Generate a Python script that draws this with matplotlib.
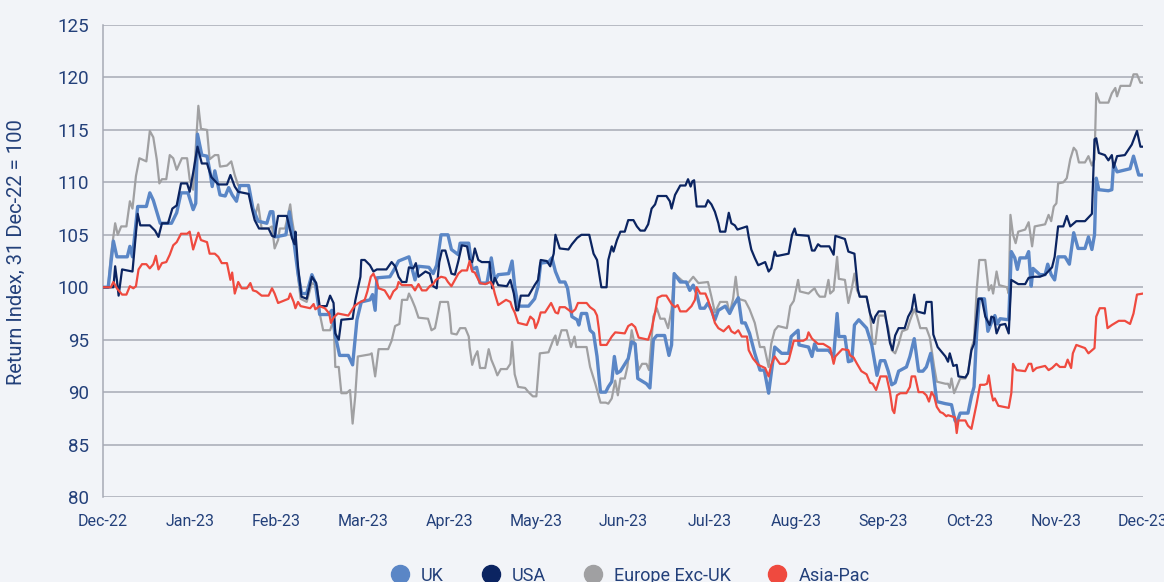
# Return index of regional equity markets, Dec-22 to Dec-23
import matplotlib
matplotlib.use("Agg")
import matplotlib.pyplot as plt
from matplotlib.lines import Line2D

plt.rcParams['font.family'] = ['Roboto', 'DejaVu Sans']

# x = months since 31 Dec 2022, values = return index (31 Dec-22 = 100)
month_labels = ['Dec-22', 'Jan-23', 'Feb-23', 'Mar-23', 'Apr-23', 'May-23', 'Jun-23',
                'Jul-23', 'Aug-23', 'Sep-23', 'Oct-23', 'Nov-23', 'Dec-23']

uk_m = [0, 0.06, 0.12, 0.16, 0.28, 0.31, 0.34, 0.40, 0.50, 0.54, 0.58, 0.62, 0.66, 0.79, 0.85, 0.90, 0.98,
        1.04, 1.07, 1.09, 1.14, 1.20, 1.23, 1.26, 1.29, 1.35, 1.41, 1.45, 1.49, 1.54, 1.58, 1.68, 1.73, 1.79,
        1.89, 1.93, 1.96, 1.99, 2.11, 2.15, 2.20, 2.25, 2.29, 2.35, 2.41, 2.45, 2.50, 2.60, 2.64, 2.68, 2.73,
        2.83, 2.88, 2.93, 2.98, 3.08, 3.11, 3.14, 3.16, 3.31, 3.36, 3.41, 3.53, 3.60, 3.64, 3.76, 3.81, 3.85,
        3.90, 3.98, 4.02, 4.10, 4.12, 4.22, 4.26, 4.31, 4.35, 4.43, 4.48, 4.52, 4.56, 4.68, 4.72, 4.75, 4.79,
        4.91, 4.98, 5.02, 5.05, 5.14, 5.18, 5.22, 5.27, 5.33, 5.36, 5.41, 5.47, 5.49, 5.52, 5.58, 5.62, 5.66,
        5.70, 5.74, 5.80, 5.83, 5.87, 5.90, 5.93, 5.97, 6.06, 6.10, 6.14, 6.17, 6.27, 6.31, 6.35, 6.39, 6.48,
        6.53, 6.56, 6.59, 6.66, 6.73, 6.77, 6.81, 6.85, 6.89, 6.94, 6.98, 7.02, 7.06, 7.10, 7.18, 7.23, 7.27,
        7.33, 7.37, 7.41, 7.46, 7.52, 7.58, 7.63, 7.68, 7.71, 7.75, 7.83, 7.91, 7.94, 8.02, 8.03, 8.14, 8.18,
        8.21, 8.24, 8.37, 8.43, 8.47, 8.49, 8.56, 8.60, 8.64, 8.67, 8.72, 8.81, 8.87, 8.93, 8.97, 9.02, 9.06,
        9.10, 9.14, 9.18, 9.27, 9.31, 9.36, 9.41, 9.46, 9.50, 9.55, 9.58, 9.62, 9.72, 9.79, 9.83, 9.85, 9.89,
        9.98, 10.02, 10.05, 10.08, 10.11, 10.17, 10.21, 10.25, 10.29, 10.32, 10.35, 10.45, 10.48, 10.52, 10.55,
        10.58, 10.65, 10.68, 10.71, 10.73, 10.81, 10.87, 10.90, 10.94, 10.98, 11.02, 11.10, 11.15, 11.20, 11.25,
        11.33, 11.37, 11.41, 11.44, 11.46, 11.49, 11.60, 11.64, 11.66, 11.70, 11.85, 11.89, 11.95, 12.0]
uk_v = [100, 100, 104.4, 102.9, 102.9, 103.9, 102.9, 107.7, 107.7, 109.0, 108.3, 107.2, 106.1, 106.1, 107.1,
        109.0, 109.0, 107.4, 108.0, 114.6, 112.6, 112.5, 111.2, 109.6, 111.1, 108.8, 108.7, 109.5, 108.8, 108.2,
        109.7, 109.7, 107.5, 106.3, 106.1, 107.2, 107.2, 104.8, 105.0, 107.2, 104.5, 101.3, 99.4, 99.4, 101.2,
        100.4, 97.4, 97.4, 97.8, 95.4, 93.5, 93.5, 92.6, 96.9, 98.6, 98.8, 99.3, 97.8, 100.9, 101.0, 101.7, 102.5,
        102.9, 100.7, 102.0, 101.9, 101.3, 102.1, 105.0, 105.0, 103.6, 103.1, 104.2, 104.2, 101.7, 101.9, 100.4,
        100.4, 102.8, 100.7, 101.2, 101.3, 102.5, 100.1, 98.2, 98.2, 98.9, 100.1, 102.3, 102.4, 102.8, 101.5,
        100.5, 100.5, 99.9, 97.2, 96.9, 96.4, 97.5, 97.5, 95.9, 95.6, 93.4, 90.0, 90.0, 90.5, 91.0, 93.4, 91.8,
        92.0, 93.2, 94.8, 94.6, 91.3, 90.8, 90.4, 95.0, 95.4, 95.4, 93.5, 94.5, 101.3, 100.5, 100.5, 99.7, 100.2,
        99.4, 98.0, 98.0, 98.5, 97.8, 96.9, 97.8, 98.2, 97.5, 98.2, 99.0, 96.6, 96.6, 95.6, 93.7, 92.1, 92.1,
        89.9, 91.8, 94.3, 93.7, 93.7, 95.3, 95.9, 94.5, 94.3, 93.4, 94.6, 94.0, 94.0, 93.4, 97.5, 95.3, 95.3,
        92.9, 93.0, 96.4, 96.9, 96.1, 94.5, 91.6, 93.0, 93.0, 92.0, 90.7, 90.9, 92.0, 92.4, 93.4, 95.1, 92.0,
        92.0, 92.4, 93.7, 91.8, 89.1, 88.9, 88.8, 87.3, 87.1, 88.0, 88.0, 89.6, 90.5, 95.6, 98.9, 98.9, 95.8,
        96.6, 97.3, 96.5, 97.0, 96.9, 103.4, 102.8, 101.7, 102.8, 102.8, 103.4, 100.1, 101.8, 101.2, 101.2,
        102.2, 101.2, 100.7, 102.9, 102.9, 102.2, 105.2, 103.7, 103.7, 104.8, 103.6, 105.0, 110.4, 109.3,
        109.2, 109.3, 111.8, 111.0, 111.3, 112.5, 110.7, 110.7]

usa_m = [0, 0.12, 0.14, 0.16, 0.18, 0.22, 0.34, 0.40, 0.43, 0.54, 0.60, 0.64, 0.68, 0.75, 0.80, 0.85, 0.90,
         0.97, 1.00, 1.04, 1.09, 1.14, 1.20, 1.25, 1.33, 1.43, 1.47, 1.52, 1.56, 1.68, 1.72, 1.75, 1.80, 1.91,
         1.95, 1.98, 2.02, 2.12, 2.18, 2.21, 2.22, 2.25, 2.29, 2.35, 2.41, 2.46, 2.50, 2.58, 2.62, 2.66, 2.68,
         2.72, 2.75, 2.88, 2.91, 2.97, 2.98, 3.02, 3.08, 3.12, 3.16, 3.27, 3.33, 3.37, 3.41, 3.45, 3.50, 3.53,
         3.58, 3.61, 3.64, 3.72, 3.77, 3.81, 3.85, 3.88, 3.91, 3.95, 3.98, 4.02, 4.06, 4.10, 4.14, 4.20, 4.23,
         4.26, 4.29, 4.33, 4.37, 4.46, 4.49, 4.52, 4.56, 4.66, 4.70, 4.74, 4.77, 4.79, 4.82, 4.91, 4.98, 5.02,
         5.05, 5.12, 5.16, 5.20, 5.22, 5.27, 5.37, 5.41, 5.47, 5.52, 5.61, 5.66, 5.70, 5.75, 5.81, 5.83, 5.87,
         5.89, 5.93, 5.97, 6.02, 6.06, 6.12, 6.16, 6.20, 6.25, 6.29, 6.33, 6.37, 6.40, 6.50, 6.54, 6.56, 6.60,
         6.66, 6.72, 6.75, 6.78, 6.80, 6.82, 6.85, 6.95, 6.98, 7.02, 7.06, 7.10, 7.12, 7.18, 7.22, 7.25, 7.29,
         7.32, 7.43, 7.45, 7.48, 7.52, 7.56, 7.64, 7.68, 7.71, 7.75, 7.77, 7.79, 7.91, 7.95, 7.98, 8.00, 8.14,
         8.18, 8.21, 8.25, 8.28, 8.38, 8.43, 8.45, 8.56, 8.60, 8.67, 8.71, 8.73, 8.81, 8.85, 8.89, 8.91, 8.95,
         9.02, 9.08, 9.11, 9.14, 9.18, 9.25, 9.29, 9.33, 9.36, 9.39, 9.48, 9.50, 9.56, 9.58, 9.63, 9.72, 9.75,
         9.77, 9.81, 9.85, 9.87, 9.95, 9.98, 10.02, 10.05, 10.08, 10.10, 10.14, 10.18, 10.23, 10.25, 10.28,
         10.31, 10.35, 10.41, 10.45, 10.48, 10.56, 10.64, 10.68, 10.75, 10.81, 10.87, 10.95, 10.98, 11.02,
         11.08, 11.12, 11.16, 11.23, 11.33, 11.41, 11.44, 11.46, 11.49, 11.56, 11.60, 11.64, 11.66, 11.70,
         11.79, 11.87, 11.93, 11.97, 12.0]
usa_v = [100, 100, 102.0, 100.7, 99.2, 101.7, 101.5, 107.0, 105.9, 105.9, 105.4, 104.8, 106.1, 106.1, 107.5,
         107.8, 109.9, 109.9, 109.1, 110.9, 113.4, 111.8, 111.8, 110.5, 109.8, 109.8, 110.7, 109.6, 109.1, 108.9,
         107.4, 106.4, 105.6, 105.6, 104.9, 104.8, 106.8, 106.8, 104.7, 104.1, 105.3, 102.0, 99.1, 98.9, 101.0,
         100.4, 98.2, 98.2, 99.2, 98.5, 95.6, 95.0, 96.9, 97.0, 98.7, 101.0, 102.6, 102.6, 102.1, 101.5, 101.7,
         101.7, 102.4, 102.0, 101.0, 100.5, 100.5, 101.9, 101.8, 102.3, 101.0, 101.5, 101.3, 100.1, 99.9, 102.4,
         103.5, 103.5, 102.6, 101.3, 101.2, 102.5, 104.0, 103.9, 102.6, 102.4, 103.7, 102.6, 102.4, 102.4, 99.9,
         100.9, 100.2, 100.1, 100.7, 99.4, 97.8, 97.8, 99.2, 99.2, 100.2, 100.7, 102.6, 102.5, 102.0, 103.2,
         105.0, 103.7, 103.6, 104.1, 104.7, 105.0, 105.0, 103.2, 102.6, 100.0, 100.0, 102.6, 103.9, 103.4, 104.5,
         105.3, 105.3, 106.4, 106.4, 105.8, 105.4, 105.4, 106.0, 107.5, 107.9, 108.7, 108.7, 108.2, 107.5, 108.8,
         109.7, 109.7, 110.3, 109.6, 110.1, 110.2, 107.7, 107.7, 108.3, 107.9, 107.2, 106.1, 105.3, 105.3, 107.1,
         106.1, 105.9, 105.5, 105.8, 104.8, 103.6, 102.8, 102.1, 102.4, 101.5, 101.8, 103.4, 103.0, 103.0, 103.2,
         105.0, 105.6, 105.0, 104.9, 103.5, 103.5, 104.1, 103.9, 103.9, 103.1, 104.9, 104.6, 103.4, 103.2, 99.8,
         99.1, 99.1, 97.5, 96.6, 97.2, 97.7, 97.7, 94.7, 94.0, 95.4, 96.1, 96.1, 97.2, 97.8, 99.3, 97.7, 97.5,
         98.6, 98.6, 95.5, 94.3, 93.4, 92.9, 93.7, 92.5, 92.6, 91.5, 91.4, 91.8, 94.0, 94.6, 97.2, 98.9, 98.9,
         97.2, 96.4, 97.2, 97.1, 95.6, 96.4, 96.5, 95.6, 100.7, 100.3, 100.3, 100.9, 101.0, 101.0, 101.2, 101.9,
         102.9, 105.8, 105.8, 106.8, 105.8, 106.3, 106.3, 107.0, 114.1, 114.2, 112.8, 112.6, 112.1, 112.6, 111.4,
         112.5, 112.6, 113.6, 114.9, 113.4, 113.4]

europe_m = [0, 0.06, 0.09, 0.14, 0.17, 0.21, 0.27, 0.31, 0.34, 0.38, 0.42, 0.50, 0.54, 0.58, 0.62, 0.65, 0.68,
            0.73, 0.77, 0.81, 0.85, 0.91, 0.97, 1.00, 1.04, 1.10, 1.13, 1.20, 1.23, 1.29, 1.33, 1.35, 1.43, 1.48,
            1.52, 1.56, 1.68, 1.72, 1.75, 1.79, 1.83, 1.91, 1.95, 1.98, 2.02, 2.04, 2.10, 2.14, 2.16, 2.18, 2.22,
            2.25, 2.28, 2.35, 2.41, 2.47, 2.50, 2.54, 2.62, 2.66, 2.68, 2.72, 2.75, 2.81, 2.85, 2.88, 2.91, 2.94,
            3.08, 3.10, 3.14, 3.18, 3.29, 3.33, 3.37, 3.42, 3.45, 3.51, 3.53, 3.56, 3.60, 3.64, 3.75, 3.79, 3.83,
            3.85, 3.89, 3.98, 4.00, 4.02, 4.08, 4.12, 4.18, 4.22, 4.23, 4.26, 4.29, 4.32, 4.35, 4.41, 4.45, 4.48,
            4.52, 4.55, 4.59, 4.66, 4.70, 4.72, 4.75, 4.79, 4.87, 4.91, 4.96, 5.00, 5.04, 5.14, 5.20, 5.22, 5.24,
            5.29, 5.35, 5.40, 5.44, 5.46, 5.58, 5.62, 5.68, 5.74, 5.80, 5.83, 5.87, 5.91, 5.94, 5.97, 6.02, 6.05,
            6.10, 6.14, 6.18, 6.22, 6.27, 6.30, 6.35, 6.39, 6.43, 6.48, 6.52, 6.56, 6.59, 6.70, 6.75, 6.81, 6.87,
            6.98, 7.02, 7.06, 7.12, 7.20, 7.23, 7.27, 7.30, 7.33, 7.41, 7.46, 7.52, 7.58, 7.63, 7.68, 7.71, 7.75,
            7.79, 7.89, 7.93, 7.97, 8.02, 8.04, 8.14, 8.18, 8.21, 8.24, 8.27, 8.33, 8.37, 8.39, 8.43, 8.47, 8.49,
            8.56, 8.60, 8.64, 8.67, 8.70, 8.74, 8.81, 8.85, 8.88, 8.91, 8.95, 9.02, 9.06, 9.10, 9.14, 9.18, 9.22,
            9.28, 9.31, 9.36, 9.39, 9.43, 9.50, 9.54, 9.59, 9.62, 9.72, 9.75, 9.77, 9.79, 9.82, 9.85, 9.89, 9.95,
            9.98, 10.02, 10.05, 10.08, 10.11, 10.18, 10.22, 10.25, 10.27, 10.31, 10.34, 10.43, 10.45, 10.47,
            10.50, 10.53, 10.56, 10.64, 10.68, 10.72, 10.75, 10.87, 10.91, 10.94, 10.97, 11.00, 11.02, 11.08,
            11.12, 11.16, 11.20, 11.23, 11.26, 11.33, 11.37, 11.41, 11.44, 11.46, 11.50, 11.60, 11.64, 11.68,
            11.70, 11.74, 11.85, 11.89, 11.93, 11.97, 12.0]
europe_v = [100, 100, 103.0, 106.1, 105.0, 105.8, 105.8, 108.2, 107.5, 110.6, 112.3, 112.0, 114.9, 114.3, 112.2,
            109.9, 110.3, 110.3, 112.6, 112.3, 111.2, 112.3, 112.3, 110.3, 109.3, 117.3, 115.1, 115.0, 112.2,
            112.6, 112.6, 111.5, 111.6, 112.0, 110.7, 109.7, 109.7, 107.5, 106.7, 107.9, 105.6, 105.6, 105.8,
            103.7, 104.5, 105.6, 105.6, 107.1, 107.9, 106.5, 104.5, 101.0, 98.9, 98.6, 100.4, 100.1, 97.5, 95.9,
            95.9, 96.9, 92.4, 92.4, 89.9, 89.9, 90.2, 87.0, 89.6, 93.4, 93.6, 93.7, 91.5, 94.1, 94.1, 94.9, 96.3,
            96.5, 98.8, 98.8, 99.4, 98.9, 98.1, 97.1, 97.0, 95.9, 96.1, 96.9, 98.6, 98.6, 97.5, 95.6, 95.5, 96.1,
            96.1, 95.3, 94.3, 92.6, 93.4, 93.9, 92.3, 92.3, 94.1, 93.1, 92.3, 91.6, 92.2, 92.2, 92.7, 94.8, 91.7,
            90.5, 90.4, 90.0, 89.6, 89.6, 93.7, 93.8, 95.1, 95.4, 94.5, 95.9, 95.9, 94.3, 95.3, 94.3, 94.3, 92.4,
            90.8, 89.0, 89.0, 88.9, 89.4, 91.1, 89.7, 91.3, 91.3, 92.4, 95.9, 94.3, 92.1, 92.7, 92.7, 92.1, 97.2,
            98.0, 97.0, 97.0, 96.1, 97.9, 101.3, 100.5, 100.4, 101.0, 100.4, 100.5, 99.1, 97.6, 98.6, 98.6, 97.5,
            98.9, 101.0, 98.9, 98.7, 97.9, 96.6, 94.3, 94.3, 92.4, 94.6, 95.9, 96.3, 96.1, 98.2, 98.7, 100.7, 99.6,
            99.4, 99.7, 99.9, 99.4, 99.1, 99.1, 100.7, 99.4, 99.7, 102.9, 100.8, 100.7, 98.5, 99.9, 101.3, 99.7,
            99.1, 99.1, 97.5, 94.6, 94.6, 97.3, 97.3, 96.1, 94.0, 93.7, 94.6, 95.8, 96.0, 96.8, 97.9, 97.3, 96.1,
            96.1, 95.2, 92.4, 91.0, 90.8, 90.8, 90.4, 91.3, 89.9, 90.5, 91.3, 91.3, 91.8, 94.2, 95.0, 99.7, 102.6,
            102.6, 99.7, 100.2, 99.4, 101.5, 100.2, 100.0, 99.4, 106.9, 105.0, 104.2, 105.3, 105.5, 106.2, 103.9,
            105.8, 106.0, 106.9, 106.3, 107.7, 108.0, 109.9, 110.0, 110.4, 112.2, 113.3, 113.0, 111.9, 111.9,
            112.5, 111.6, 112.2, 118.5, 117.6, 117.6, 118.5, 119.0, 118.2, 119.2, 119.2, 120.3, 120.3, 119.5, 119.5]

asia_m = [0, 0.09, 0.12, 0.16, 0.22, 0.27, 0.31, 0.35, 0.38, 0.41, 0.45, 0.50, 0.54, 0.58, 0.61, 0.64, 0.68,
          0.73, 0.77, 0.81, 0.85, 0.90, 0.97, 1.00, 1.04, 1.07, 1.10, 1.13, 1.20, 1.23, 1.29, 1.33, 1.37, 1.43,
          1.47, 1.49, 1.52, 1.56, 1.60, 1.66, 1.70, 1.73, 1.77, 1.83, 1.91, 1.95, 1.98, 2.02, 2.14, 2.16, 2.20,
          2.22, 2.25, 2.28, 2.39, 2.43, 2.45, 2.50, 2.56, 2.61, 2.63, 2.66, 2.71, 2.83, 2.87, 2.90, 2.95, 3.02,
          3.05, 3.09, 3.12, 3.16, 3.18, 3.25, 3.31, 3.35, 3.39, 3.41, 3.45, 3.56, 3.60, 3.64, 3.68, 3.73, 3.77,
          3.81, 3.84, 3.90, 3.95, 3.98, 4.02, 4.06, 4.10, 4.14, 4.20, 4.23, 4.26, 4.29, 4.35, 4.41, 4.47, 4.50,
          4.52, 4.56, 4.65, 4.70, 4.72, 4.75, 4.79, 4.89, 4.93, 4.97, 4.99, 5.02, 5.05, 5.10, 5.17, 5.22, 5.25,
          5.27, 5.33, 5.41, 5.45, 5.48, 5.58, 5.62, 5.67, 5.70, 5.72, 5.74, 5.81, 5.87, 5.91, 6.02, 6.06, 6.10,
          6.14, 6.18, 6.29, 6.33, 6.37, 6.40, 6.45, 6.50, 6.56, 6.60, 6.63, 6.66, 6.73, 6.79, 6.83, 6.85, 6.89,
          6.95, 6.98, 7.02, 7.06, 7.10, 7.16, 7.22, 7.25, 7.29, 7.33, 7.37, 7.43, 7.45, 7.50, 7.56, 7.64, 7.68,
          7.71, 7.75, 7.81, 7.87, 7.91, 7.97, 8.08, 8.12, 8.14, 8.18, 8.25, 8.31, 8.39, 8.43, 8.45, 8.53, 8.60,
          8.62, 8.66, 8.70, 8.75, 8.81, 8.85, 8.88, 8.92, 8.97, 9.04, 9.08, 9.11, 9.13, 9.16, 9.20, 9.27, 9.31,
          9.33, 9.37, 9.41, 9.46, 9.50, 9.53, 9.56, 9.59, 9.62, 9.66, 9.69, 9.73, 9.75, 9.83, 9.85, 9.87, 9.95,
          9.98, 10.02, 10.04, 10.08, 10.12, 10.17, 10.20, 10.22, 10.25, 10.27, 10.29, 10.33, 10.45, 10.48, 10.50,
          10.54, 10.64, 10.68, 10.71, 10.73, 10.77, 10.87, 10.91, 10.95, 11.00, 11.04, 11.10, 11.13, 11.17,
          11.19, 11.23, 11.33, 11.37, 11.44, 11.46, 11.50, 11.56, 11.59, 11.64, 11.72, 11.79, 11.85, 11.89,
          11.93, 12.0]
asia_v = [100, 100, 100.5, 99.9, 99.3, 99.3, 100.1, 99.9, 100.1, 101.7, 102.2, 102.2, 101.8, 102.2, 103.0, 101.7,
          102.3, 102.4, 103.1, 104.0, 104.3, 105.1, 105.1, 105.3, 103.6, 104.4, 105.2, 104.5, 104.3, 103.2, 103.2,
          102.9, 102.3, 102.3, 100.7, 101.4, 99.4, 100.5, 99.9, 99.9, 100.4, 99.7, 99.6, 99.2, 99.2, 99.9, 99.4,
          98.5, 98.9, 99.4, 98.6, 98.0, 98.6, 98.2, 98.0, 98.4, 97.9, 98.2, 98.0, 97.5, 96.6, 97.1, 97.5, 97.3,
          97.8, 98.2, 98.5, 98.8, 99.6, 101.0, 101.3, 100.5, 99.9, 99.7, 98.9, 99.6, 99.9, 100.5, 100.2, 100.2,
          99.7, 100.3, 99.7, 99.7, 100.1, 100.3, 100.7, 101.0, 100.9, 100.5, 100.1, 100.7, 101.3, 101.6, 101.6,
          102.5, 101.5, 101.4, 100.4, 100.3, 100.5, 100.1, 99.4, 98.3, 98.8, 98.6, 98.1, 97.6, 96.6, 96.4, 97.2,
          96.9, 96.1, 96.7, 97.6, 97.6, 98.5, 97.6, 97.5, 98.1, 98.1, 97.6, 97.9, 98.5, 98.5, 98.1, 97.8, 97.3,
          96.1, 94.5, 94.5, 95.3, 95.7, 95.6, 96.3, 96.5, 96.2, 95.2, 95.0, 96.0, 97.6, 99.0, 99.2, 99.2, 98.4,
          98.1, 98.3, 97.7, 97.7, 98.2, 98.8, 100.0, 99.4, 99.4, 98.8, 97.8, 96.6, 96.1, 95.8, 96.3, 95.8, 95.6,
          95.9, 95.3, 95.3, 94.0, 93.2, 92.6, 92.3, 91.5, 92.6, 93.4, 92.7, 92.7, 93.0, 94.9, 94.9, 95.1, 95.7,
          95.1, 94.6, 94.6, 94.2, 92.7, 93.4, 94.1, 94.0, 93.5, 93.3, 92.7, 92.0, 91.7, 90.9, 90.8, 90.2, 91.5,
          91.5, 90.0, 88.3, 88.0, 89.7, 89.9, 89.9, 90.5, 91.5, 91.5, 90.0, 90.0, 89.7, 89.1, 90.0, 89.6, 88.6,
          88.1, 88.0, 87.7, 87.8, 87.6, 86.1, 87.3, 87.3, 86.8, 86.5, 87.3, 88.9, 90.7, 90.7, 90.8, 91.6, 89.9,
          89.2, 89.4, 88.7, 88.5, 89.9, 92.7, 92.1, 92.0, 92.7, 92.7, 92.0, 92.3, 92.5, 92.1, 92.3, 92.7, 92.4,
          92.4, 93.1, 92.3, 93.7, 94.5, 94.2, 93.7, 94.2, 97.2, 98.0, 98.0, 96.1, 96.4, 96.8, 96.8, 96.5, 97.5,
          99.3, 99.4]

colours = {'UK': '#5a86c6', 'USA': '#0b2461', 'Europe Exc-UK': '#a0a0a2', 'Asia-Pac': '#ef4a3f'}
text_col = '#23407a'
bg = '#f2f4f8'
grid_col = '#a7aab5'

fig = plt.figure(figsize=(11.64, 5.82), dpi=100, facecolor=bg)
ax = fig.add_axes([0.0885, 0.146, 0.8935, 0.811])
ax.set_facecolor(bg)

ax.plot(europe_m, europe_v, color=colours['Europe Exc-UK'], lw=1.6, zorder=3)
ax.plot(uk_m, uk_v, color=colours['UK'], lw=2.4, zorder=4)
ax.plot(usa_m, usa_v, color=colours['USA'], lw=1.6, zorder=5)
ax.plot(asia_m, asia_v, color=colours['Asia-Pac'], lw=1.6, zorder=6)

ax.set_xlim(0, 12)
ax.set_ylim(80, 125)
ax.set_yticks(range(80, 126, 5))
ax.set_xticks(range(13))
ax.set_xticklabels(month_labels)
ax.grid(axis='y', color=grid_col, lw=1.1)
ax.set_axisbelow(True)
for s in ['top', 'right', 'bottom']:
    ax.spines[s].set_visible(False)
ax.spines['left'].set_color(grid_col)
ax.spines['left'].set_linewidth(1.1)
ax.tick_params(axis='y', length=0, pad=10, labelsize=13.5, labelcolor=text_col)
ax.tick_params(axis='x', length=0, pad=12, labelsize=11.5, labelcolor=text_col)
ax.set_ylabel('Return Index, 31 Dec-22 = 100', color=text_col, fontsize=14.5)
ax.yaxis.set_label_coords(-0.074, 0.52)

handles = [Line2D([], [], marker='o', ls='none', ms=13, color=c) for c in colours.values()]
fig.legend(handles, list(colours.keys()), loc='center', bbox_to_anchor=(0.54, 0.011), ncol=4,
           frameon=False, fontsize=13, labelcolor=text_col, handlelength=1.4,
           handletextpad=0.45, columnspacing=1.9)

fig.savefig('out.png', dpi=100, facecolor=bg)
